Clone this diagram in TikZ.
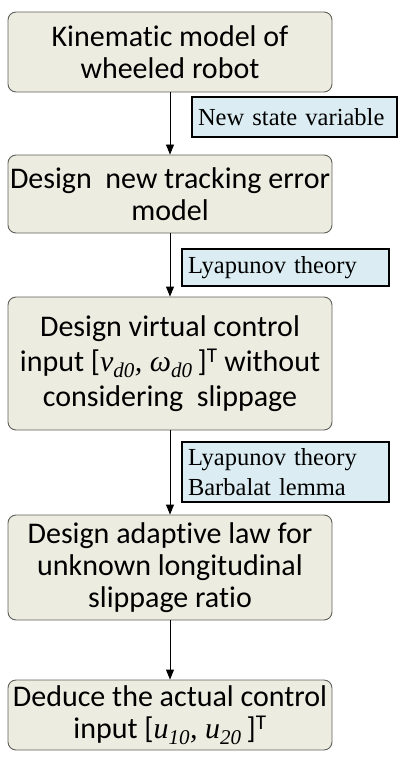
\documentclass[tikz,border=0pt]{standalone}
\usepackage{fontspec}
\setmainfont[Ligatures=NoCommon]{Carlito}
\newfontfamily\tms{Liberation Serif}
\usetikzlibrary{arrows.meta}

\begin{document}
\begin{tikzpicture}[x=1pt,y=-1pt,>={Triangle[width=8pt,length=10pt]}]
            \definecolor{boxfill}{RGB}{236,237,224}
            \definecolor{boxline}{RGB}{95,95,90}
            \definecolor{notefill}{RGB}{219,237,243}
            \tikzset{
                stage/.style={draw=boxline,fill=boxfill,rounded corners=8pt,line width=0.9pt,
                    minimum width=324pt,align=center,inner sep=0pt,
                    font=\fontsize{30}{32}\selectfont},
                note/.style={draw=black,fill=notefill,line width=1.5pt,align=left,
                    inner xsep=6pt,inner ysep=0pt,
                    font=\tms\fontsize{24.5}{30}\selectfont}
            }
            \useasboundingbox (0,0) rectangle (407,767);
            % steps
            \node[stage,minimum height=80pt] (kin) at (170,52) {Kinematic model of\\wheeled robot};
            \node[stage,minimum height=78pt] (err) at (170,194) {Design\ \ new tracking error\\model};
            \node[stage,minimum height=133pt,font=\fontsize{30}{35}\selectfont] (virt) at (170,363.5) {Design virtual control\\
                input [{\tms\itshape v\textsubscript{d0}, ω\textsubscript{d0}}\,]\textsuperscript{T} without\\
                considering\ \ slippage};
            \node[stage,minimum height=105pt] (adapt) at (170,567.5) {Design adaptive law for\\unknown longitudinal\\slippage ratio};
            \node[stage,minimum height=70pt] (ctrl) at (170,715) {Deduce the actual control\\
                input [{\tms\itshape u\textsubscript{10}, u\textsubscript{20}}\,]\textsuperscript{T}};
            % notes
            \node[note,minimum height=40pt,text width=193pt] (n1) at (294.5,117) {New state variable};
            \node[note,minimum height=37pt,text width=195pt] (n2) at (285.5,267.5) {Lyapunov theory};
            \node[note,minimum height=60pt,text width=195pt] (n3) at (285.5,472) {Lyapunov theory\\Barbalat lemma};
            % flow
            \foreach \a/\b in {kin/err,err/virt,virt/adapt,adapt/ctrl}{
                \draw[->,line width=0.9pt] (\a) -- (\b);
            }
        \end{tikzpicture}
\end{document}
